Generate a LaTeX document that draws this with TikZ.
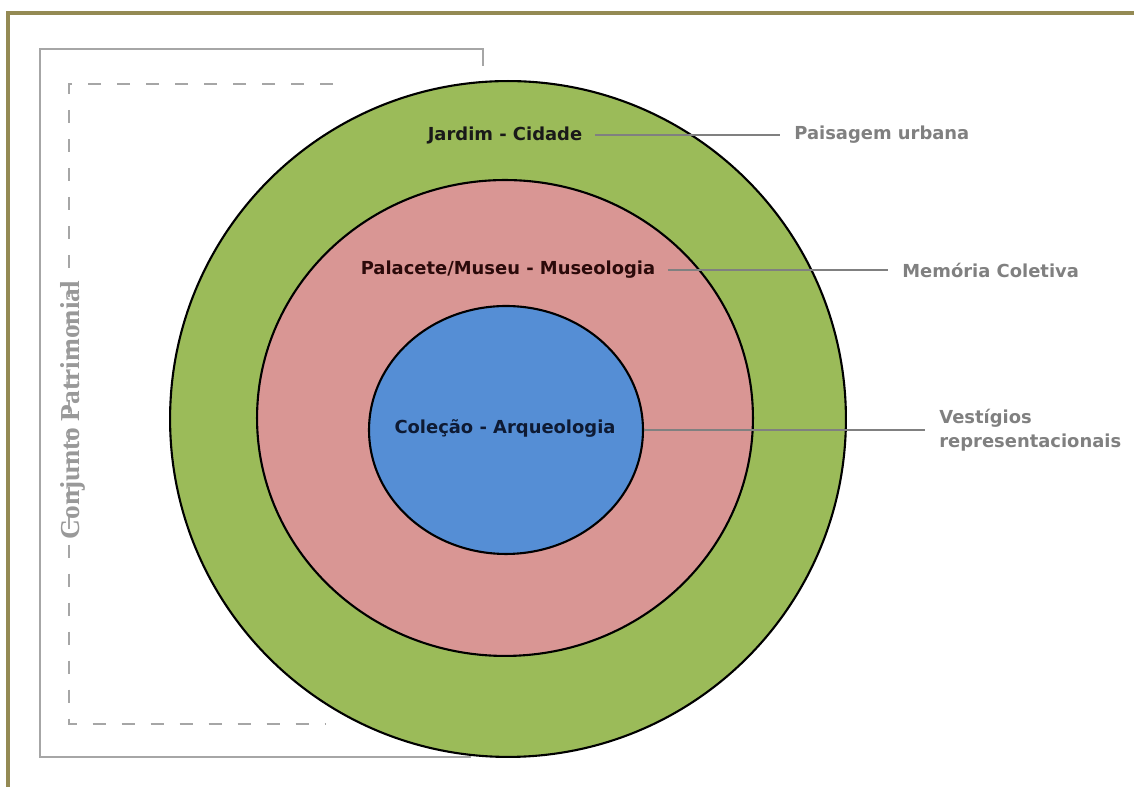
\documentclass[tikz,border=0pt]{standalone}
\usepackage{fontspec}
\setmainfont{DejaVu Sans}
\newfontfamily\serifbold{Liberation Serif}
\usetikzlibrary{shapes.geometric}
\definecolor{frameolive}{HTML}{948A54}
\definecolor{ringgreen}{HTML}{9BBB59}
\definecolor{ringpink}{HTML}{D99694}
\definecolor{ringblue}{HTML}{558ED5}
\definecolor{labelgray}{HTML}{808080}
\definecolor{bracketgray}{HTML}{A6A6A6}
\begin{document}
\begin{tikzpicture}[x=0.02cm,y=0.02cm,
	ring/.style={ellipse, draw=black, line width=1.2pt, inner sep=0pt},
	inlabel/.style={font=\fontsize{10.2}{12}\selectfont\bfseries, inner xsep=7pt},
	outlabel/.style={font=\fontsize{10.2}{13.6}\selectfont\bfseries, text=labelgray, anchor=west, inner xsep=8pt, align=left},
	leader/.style={draw=labelgray, line width=0.6pt}]
	\useasboundingbox (0,0) rectangle (1134,787);

	% frame
	\draw[frameolive, line width=1.8pt] (8,0) -- (8,774) -- (1134,774);

	% bracket and dashed box
	\draw[bracketgray, line width=0.8pt] (483,721) -- (483,738) -- (40,738) -- (40,30) -- (470,30) -- (470,47);
	\draw[bracketgray, line width=0.9pt, dash pattern=on 7.5pt off 9pt] (333,703) -- (69,703) -- (69,63) -- (326,63);
	\node[rotate=90, text=black!40, font=\fontsize{15.6}{18}\selectfont\serifbold\bfseries] (conjunto) at (73,377) {Conjunto Patrimonial};

	% rings
	\node[ring, fill=ringgreen, minimum width=13.52cm, minimum height=13.52cm] (outer) at (508,368) {};
	\node[ring, fill=ringpink, minimum width=9.92cm, minimum height=9.52cm] (middle) at (505,369) {};
	\node[ring, fill=ringblue, minimum width=5.48cm, minimum height=4.96cm] (inner) at (506,357) {};

	\node[inlabel, text=black!90] (jardim) at (505,652) {Jardim - Cidade};
	\node[inlabel, text={rgb,255:red,43;green,10;blue,10}] (palacete) at (508,517) {Palacete/Museu - Museologia};
	\node[inlabel, text={rgb,255:red,14;green,26;blue,51}] (colecao) at (505,359) {Coleção - Arqueologia};

	\node[outlabel] (paisagem) at (780,652) {Paisagem urbana};
	\node[outlabel] (memoria) at (888,517) {Memória Coletiva};
	\node[outlabel] (vestigios) at (925,357) {Vestígios\\representacionais};

	\draw[leader] (jardim) -- (paisagem);
	\draw[leader] (palacete) -- (memoria);
	\draw[leader] (inner.east) -- (vestigios);

\end{tikzpicture}
\end{document}
